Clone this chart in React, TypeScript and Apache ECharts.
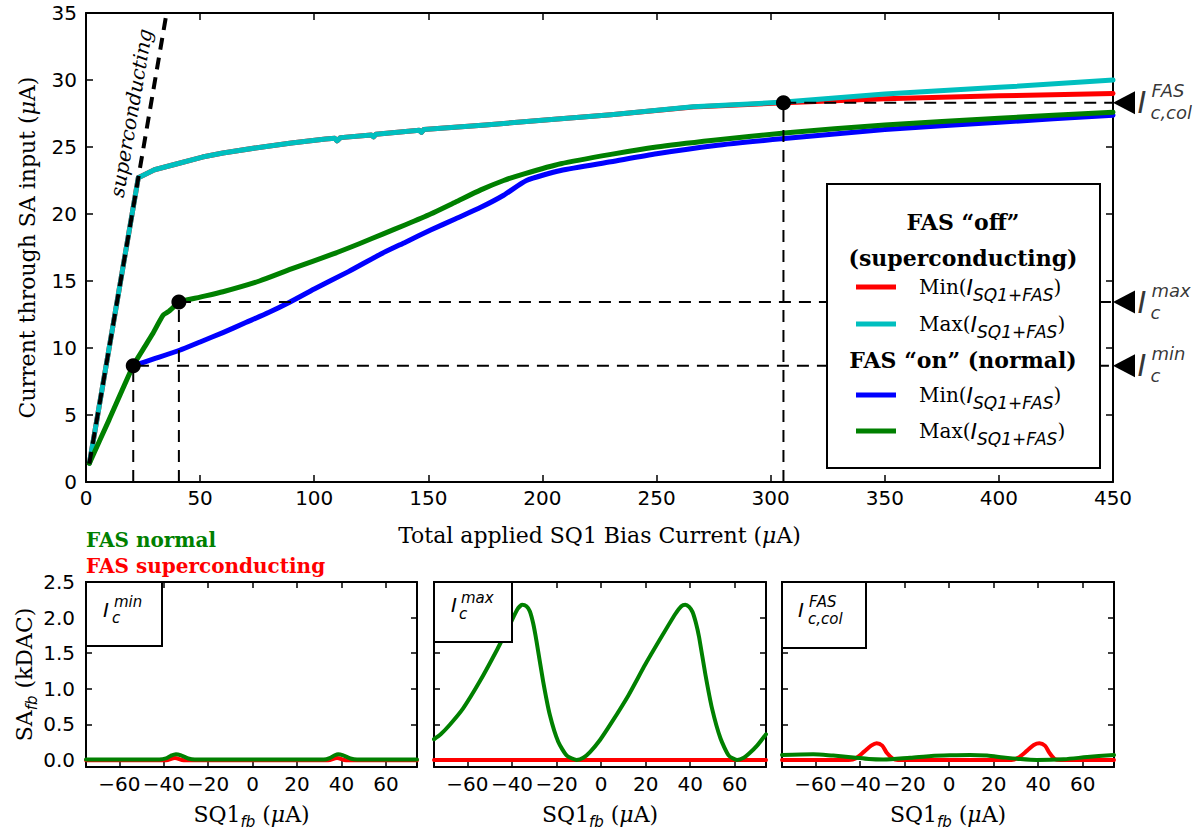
import React, { useEffect, useRef } from 'react';
import * as echarts from 'echarts';

// ---------- data ----------
const RED = '#ff0000';
const CYAN = '#00bfbf';
const BLUE = '#0000ff';
const GREEN = '#008000';

const mainXTicks = { min: 0, max: 450, interval: 50 };
const mainYTicks = { min: 0, max: 35, interval: 5 };
const subXTicks = [-60, -40, -20, 0, 20, 40, 60];
const subYTicks = [0, 0.5, 1, 1.5, 2, 2.5];

// FAS "off" (superconducting)
const scMin = [[1.5, 1.4], [22.9, 22.7], [30, 23.3], [40, 23.75], [51, 24.25], [60, 24.55], [75, 24.95], [90, 25.3], [105, 25.6], [109, 25.65], [110, 25.45], [111.5, 25.7], [125, 25.9], [126, 25.75], [127, 25.95], [146, 26.25], [147, 26.1], [148, 26.3], [175, 26.65], [208, 27.1], [230, 27.4], [266, 27.98], [306, 28.3], [350, 28.6], [400, 28.82], [450, 29.0]];
const scMax = [[1.5, 1.4], [22.9, 22.7], [30, 23.3], [40, 23.75], [51, 24.25], [60, 24.55], [75, 24.95], [90, 25.3], [105, 25.6], [109, 25.65], [110, 25.45], [111.5, 25.7], [125, 25.9], [126, 25.75], [127, 25.95], [146, 26.25], [147, 26.1], [148, 26.3], [175, 26.65], [208, 27.1], [230, 27.4], [266, 28.0], [306, 28.35], [350, 28.95], [400, 29.45], [450, 30.0]];
// FAS "on" (normal)
const nMin = [[20.7, 8.68], [30, 9.2], [41, 9.83], [50, 10.45], [60, 11.15], [70, 11.9], [80, 12.65], [89, 13.4], [100, 14.4], [115, 15.7], [129, 17.0], [140, 17.9], [151, 18.8], [162, 19.65], [173, 20.5], [183, 21.4], [193, 22.5], [208, 23.25], [230, 23.9], [250, 24.5], [275, 25.1], [306, 25.63], [350, 26.3], [400, 26.85], [450, 27.37]];
const nMax = [[1.5, 1.4], [10, 4.6], [20.7, 8.68], [25, 9.9], [29, 11.0], [33.8, 12.45], [36, 12.7], [38, 13.0], [40.7, 13.43], [50, 13.8], [60, 14.2], [76, 15.0], [90, 15.9], [108, 17.0], [120, 17.8], [130, 18.5], [140, 19.2], [151, 20.0], [162, 20.9], [173, 21.8], [183, 22.5], [192, 23.0], [208, 23.75], [230, 24.45], [250, 25.0], [275, 25.5], [306, 26.05], [350, 26.65], [400, 27.15], [450, 27.6]];
const superconductingLine = [[1.45, 1.37], [35.3, 35.0]];
const critPoints = [[20.7, 8.68], [40.7, 13.43], [305.6, 28.3]];
const critLabels = [
  { y: 28.3, sup: 'FAS', sub: 'c,col' },
  { y: 13.43, sup: 'max', sub: 'c' },
  { y: 8.68, sup: 'min', sub: 'c' },
];

// sub panels: SA_fb vs SQ1_fb
const p1Green = [[-75, 0.005], [-42, 0.005], [-39, 0.02], [-37, 0.055], [-34.5, 0.08], [-32, 0.06], [-29, 0.02], [-26, 0.005], [32, 0.005], [35, 0.03], [37, 0.065], [38.5, 0.08], [41, 0.06], [44, 0.02], [47, 0.005], [74, 0.005]];
const p1Red = [[-75, -0.005], [-39, -0.005], [-35, 0.025], [-31, -0.005], [34, -0.005], [38, 0.025], [42, -0.005], [74, -0.005]];
const p2Green = [[-75, 0.29], [-72, 0.36], [-68, 0.49], [-62, 0.72], [-54.5, 1.10], [-47, 1.53], [-41, 1.90], [-37.5, 2.12], [-35.5, 2.18], [-33.5, 2.16], [-32, 2.09], [-30.5, 1.92], [-29, 1.67], [-26, 1.10], [-23, 0.63], [-19.2, 0.25], [-15.4, 0.06], [-11, 0.0], [-8, 0.03], [-5, 0.11], [-0.5, 0.28], [4.8, 0.53], [12.3, 0.91], [19.8, 1.34], [27.3, 1.74], [33.3, 2.05], [36, 2.16], [37.8, 2.18], [39.5, 2.15], [41, 2.08], [42.5, 1.93], [44, 1.72], [46.8, 1.2], [49.8, 0.72], [53.6, 0.30], [57.3, 0.06], [61, 0], [64, 0.03], [66.3, 0.085], [70, 0.2], [74, 0.36]];
const p2Red = [[-75, 0], [74, 0]];
const p3Green = [[-75, 0.07], [-61, 0.08], [-52, 0.06], [-43, 0.035], [-36, 0.012], [-29.6, 0.005], [-17.5, 0.03], [-8, 0.055], [0.5, 0.065], [9.4, 0.07], [17, 0.06], [24.3, 0.035], [32, 0.012], [39.4, 0.0], [51.4, 0.01], [62, 0.04], [74, 0.07]];
const p3Red = [[-75, 0], [-45, 0], [-42, 0.02], [-38, 0.12], [-35, 0.2], [-32.5, 0.235], [-30, 0.2], [-28, 0.1], [-25, 0.01], [-23, 0], [28, 0], [31, 0.03], [35, 0.13], [38, 0.21], [40.5, 0.235], [43, 0.2], [45, 0.1], [47.5, 0.01], [50, 0], [74, 0]];

const panelLabels = [
  { sup: 'min', sub: 'c' },
  { sup: 'max', sub: 'c' },
  { sup: 'FAS', sub: 'c,col' },
];

// ---------- helpers ----------
const SERIF = 'DejaVu Serif';
const SANS = 'DejaVu Sans';
const tickFont = { fontFamily: SANS, fontSize: 20, color: '#000' };
const minusFmt = (v: number) => (v < 0 ? '\u2212' + Math.abs(v) : String(v));

const nameRich = {
  r: { fontFamily: SERIF, fontSize: 22, color: '#000', lineHeight: 30 },
  m: { fontFamily: SERIF, fontStyle: 'italic', fontSize: 22, color: '#000', lineHeight: 30 },
  s: { fontFamily: SANS, fontStyle: 'italic', fontSize: 15, color: '#000', lineHeight: 15, verticalAlign: 'bottom' },
};

function axis(kind: 'x' | 'y', gridIndex: number, position: string, min: number, max: number, showLabels: boolean, extra: any = {}) {
  const custom = extra.custom;
  const o: any = {
    type: 'value',
    gridIndex,
    position,
    min,
    max,
    axisLine: { show: true, onZero: false, lineStyle: { color: '#000', width: 2 } },
    axisTick: { show: true, inside: true, length: extra.tickLen || 7, lineStyle: { color: '#000', width: 1.5 } },
    axisLabel: { show: showLabels, margin: extra.margin ?? 8, interval: 0, ...tickFont, formatter: extra.formatter || minusFmt },
    splitLine: { show: false },
  };
  if (extra.interval) o.interval = extra.interval;
  if (custom) {
    o.axisTick.customValues = custom;
    o.axisLabel.customValues = custom;
  }
  if (extra.name) {
    o.name = extra.name;
    o.nameLocation = 'middle';
    o.nameGap = extra.nameGap;
    if (kind === 'y') o.nameRotate = 90;
    o.nameTextStyle = { rich: nameRich };
  }
  return o;
}

const lineSeries = (data: number[][], color: string, width: number, xi: number, yi: number, smooth: any = false, extra: any = {}) => ({
  type: 'line',
  data,
  xAxisIndex: xi,
  yAxisIndex: yi,
  showSymbol: false,
  symbol: 'none',
  smooth,
  lineStyle: { color, width, cap: 'round', join: 'round', opacity: 1, ...(extra.lineStyle || {}) },
  itemStyle: { color },
  silent: true,
  z: extra.z ?? 2,
  clip: true,
});

export default function App() {
  const ref = useRef<HTMLDivElement>(null);
  useEffect(() => {
    if (!ref.current) return;
    const chart = echarts.init(ref.current, undefined, { renderer: 'svg' });

    const grids = [
      { left: 86, top: 13, width: 1027, height: 469 },
      { left: 86, top: 582, width: 331, height: 185 },
      { left: 434, top: 582, width: 332, height: 185 },
      { left: 782, top: 582, width: 332, height: 185 },
    ].map((g) => ({ ...g, containLabel: false, outerBoundsMode: 'none' }));

    const xAxes: any[] = [
      axis('x', 0, 'bottom', mainXTicks.min, mainXTicks.max, true, {
        interval: mainXTicks.interval, margin: 6, formatter: (v: number) => String(v),
        name: '{r|Total applied SQ1 Bias Current (}{m|\u03bc}{r|A)}', nameGap: 38,
      }),
      axis('x', 0, 'top', mainXTicks.min, mainXTicks.max, false, { interval: mainXTicks.interval }),
    ];
    const yAxes: any[] = [
      axis('y', 0, 'left', mainYTicks.min, mainYTicks.max, true, {
        interval: mainYTicks.interval, margin: 9, formatter: (v: number) => String(v),
        name: '{r|Current through SA input (}{m|\u03bc}{r|A)}', nameGap: 44,
      }),
      axis('y', 0, 'right', mainYTicks.min, mainYTicks.max, false, { interval: mainYTicks.interval }),
    ];
    for (let p = 1; p <= 3; p++) {
      xAxes.push(axis('x', p, 'bottom', -75, 74, true, {
        custom: subXTicks, margin: 7, tickLen: 6,
        name: '{r|SQ1}{s|fb}{r| (}{m|\u03bc}{r|A)}', nameGap: 32,
      }));
      xAxes.push(axis('x', p, 'top', -75, 74, false, { custom: subXTicks, tickLen: 6 }));
      yAxes.push(axis('y', p, 'left', -0.1, 2.5, p === 1, {
        custom: subYTicks, margin: 11, tickLen: 6, formatter: (v: number) => v.toFixed(1),
        ...(p === 1 ? { name: '{r|SA}{s|fb}{r| (kDAC)}', nameGap: 46 } : {}),
      }));
      yAxes.push(axis('y', p, 'right', -0.1, 2.5, false, { custom: subYTicks, tickLen: 6 }));
    }
    // axis indices: main x 0,1 ; panel p bottom x = 2p, top x = 2p+1 ; same for y

    const guideSeries = critPoints.map((pt) => lineSeries(
      [[pt[0], 0], [pt[0], pt[1]], [mainXTicks.max, pt[1]]], '#000', 2, 0, 0, false,
      { lineStyle: { type: [12, 8], cap: 'butt', join: 'miter' }, z: 3 }
    ));

    const labelBase = { show: true, position: 'right', distance: 0, fontFamily: SANS, fontStyle: 'italic', color: '#000' };
    const hidden = { symbolSize: 1, itemStyle: { color: 'rgba(0,0,0,0)' } };

    const series: any[] = [
      lineSeries(scMin, RED, 5, 0, 0),
      lineSeries(scMax, CYAN, 5, 0, 0),
      lineSeries(nMin, BLUE, 5, 0, 0, 0.2),
      lineSeries(nMax, GREEN, 5, 0, 0, 0.2),
      ...guideSeries,
      lineSeries(superconductingLine, '#000', 4, 0, 0, false, { lineStyle: { type: [12, 8], cap: 'butt' }, z: 4 }),
      {
        type: 'scatter', xAxisIndex: 0, yAxisIndex: 0, data: critPoints, symbolSize: 15,
        itemStyle: { color: '#000', opacity: 1 }, z: 5, silent: true,
      },
      {
        type: 'scatter', xAxisIndex: 0, yAxisIndex: 0, clip: false, silent: true, z: 5,
        data: critLabels.map((c) => [mainXTicks.max, c.y]),
        symbol: 'triangle', symbolSize: [23, 22], symbolRotate: 90, symbolOffset: [11, 0],
        itemStyle: { color: '#000', opacity: 1 },
      },
      {
        type: 'scatter', xAxisIndex: 0, yAxisIndex: 0, clip: false, silent: true, z: 5,
        data: critLabels.map((c) => [mainXTicks.max, c.y]), ...hidden,
        label: { ...labelBase, offset: [24, 0], formatter: 'I', fontSize: 30, lineHeight: 26 },
      },
      {
        type: 'scatter', xAxisIndex: 0, yAxisIndex: 0, clip: false, silent: true, z: 5,
        data: critLabels.map((c) => ({ value: [mainXTicks.max, c.y], label: { formatter: c.sup } })), ...hidden,
        label: { ...labelBase, offset: [38, -12], fontSize: 18, lineHeight: 18 },
      },
      {
        type: 'scatter', xAxisIndex: 0, yAxisIndex: 0, clip: false, silent: true, z: 5,
        data: critLabels.map((c) => ({ value: [mainXTicks.max, c.y], label: { formatter: c.sub } })), ...hidden,
        label: { ...labelBase, offset: [37, 10], fontSize: 18, lineHeight: 18 },
      },
      // panels
      lineSeries(p1Red, RED, 4, 2, 2, 0.3),
      lineSeries(p1Green, GREEN, 4, 2, 2, 0.3),
      lineSeries(p2Red, RED, 4, 4, 4),
      lineSeries(p2Green, GREEN, 4, 4, 4, 0.2),
      lineSeries(p3Red, RED, 4, 6, 6, 0.3),
      lineSeries(p3Green, GREEN, 4, 6, 6, 0.3),
    ];

    // ---------- graphic annotations ----------
    const legendRich = {
      r: { fontFamily: SERIF, fontSize: 20, color: '#000', lineHeight: 32 },
      i: { fontFamily: SANS, fontStyle: 'italic', fontSize: 22, color: '#000', lineHeight: 32 },
      s: { fontFamily: SANS, fontStyle: 'italic', fontSize: 17, color: '#000', lineHeight: 17, verticalAlign: 'bottom' },
    };
    const legendHeads = [
      { text: 'FAS \u201coff\u201d', y: 222 },
      { text: '(superconducting)', y: 258 },
      { text: 'FAS \u201con\u201d (normal)', y: 360 },
    ];
    const legendRows = [
      { color: RED, label: 'Min', y: 287 },
      { color: CYAN, label: 'Max', y: 324 },
      { color: BLUE, label: 'Min', y: 395 },
      { color: GREEN, label: 'Max', y: 431 },
    ];
    const txt = (x: number, y: number, text: string, style: any, extra: any = {}) => ({
      type: 'text', x, y, z: 101, silent: true, ...extra,
      style: { text, fill: '#000', align: 'left', verticalAlign: 'middle', textAlign: 'left', textVerticalAlign: 'middle', ...style },
    });

    const graphic: any[] = [
      { type: 'rect', z: 100, silent: true, shape: { x: 827, y: 184, width: 273, height: 284 }, style: { fill: '#fff', stroke: '#000', lineWidth: 2 } },
      ...legendHeads.map((h) => txt(963, h.y, h.text, { fontFamily: SERIF, fontWeight: 'bold', fontSize: 22, align: 'center', textAlign: 'center' })),
      ...legendRows.map((r) => ({ type: 'line', z: 101, silent: true, shape: { x1: 856, y1: r.y, x2: 896, y2: r.y }, style: { stroke: r.color, lineWidth: 5 } })),
      ...legendRows.map((r) => txt(919, r.y, `{r|${r.label}(}{i|I}{s|SQ1+FAS}{r|)}`, { rich: legendRich })),
      txt(86, 540, 'FAS normal', { fontFamily: SERIF, fontWeight: 'bold', fontSize: 20, fill: GREEN }),
      txt(86, 566, 'FAS superconducting', { fontFamily: SERIF, fontWeight: 'bold', fontSize: 20, fill: RED }),
      txt(131, 113, 'superconducting', { fontFamily: SERIF, fontStyle: 'italic', fontSize: 20, align: 'center', textAlign: 'center' }, { rotation: (80.3 * Math.PI) / 180 }),
    ];
    const boxes = [
      { x: 86, y: 582, w: 76, h: 64, ix: 103, iy: 610, sx: 114, sy: 602, bx: 112, by: 618 },
      { x: 434, y: 582, w: 78, h: 60, ix: 451, iy: 605, sx: 461, sy: 598, bx: 459, by: 614 },
      { x: 782, y: 582, w: 84, h: 66, ix: 798, iy: 610, sx: 809, sy: 602, bx: 808, by: 619 },
    ];
    boxes.forEach((b, k) => {
      graphic.push({ type: 'rect', z: 100, silent: true, shape: { x: b.x, y: b.y, width: b.w, height: b.h }, style: { fill: '#fff', stroke: '#000', lineWidth: 2 } });
      graphic.push(txt(b.ix, b.iy, 'I', { fontFamily: SANS, fontStyle: 'italic', fontSize: 20 }));
      graphic.push(txt(b.sx, b.sy, panelLabels[k].sup, { fontFamily: SANS, fontStyle: 'italic', fontSize: 15, lineHeight: 14 }));
      graphic.push(txt(b.bx, b.by, panelLabels[k].sub, { fontFamily: SANS, fontStyle: 'italic', fontSize: 15, lineHeight: 14 }));
    });

    chart.setOption({
      animation: false,
      backgroundColor: '#fff',
      grid: grids,
      xAxis: xAxes,
      yAxis: yAxes,
      series,
      graphic,
    });
    return () => chart.dispose();
  }, []);
  return <div ref={ref} style={{ position: 'fixed', left: 0, top: 0, width: 1198, height: 833, background: '#fff' }} />;
}
